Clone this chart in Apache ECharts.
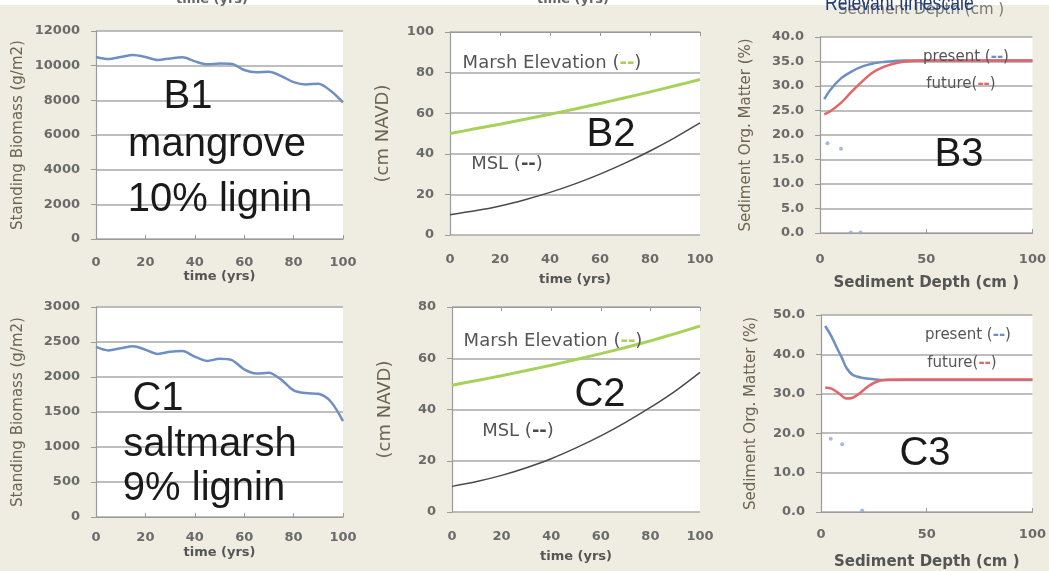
<!DOCTYPE html>
<html>
<head>
<meta charset="utf-8">
<script src="https://cdn.jsdelivr.net/npm/echarts@6/dist/echarts.min.js"></script>
<style>html,body{margin:0;padding:0;background:#efede2;}#c{width:1049px;height:571px;}</style>
</head>
<body>
<div id="c"></div>
<script>
// ---- data ----
const years5 = [0,5,10,15,20,25,30,35,40,45,50,55,60,65,70,75,80,85,90,95,100];
const b1Biomass = [10500,10380,10500,10620,10500,10330,10420,10480,10250,10080,10120,10100,9750,9620,9650,9400,9050,8920,8950,8550,7880];
const c1Biomass = [2430,2380,2410,2440,2390,2330,2360,2370,2290,2230,2260,2240,2110,2050,2060,1960,1810,1770,1760,1650,1370];

const years10 = [0,10,20,30,40,50,60,70,80,90,100];
const b2Marsh = [50,52.3,54.6,57,59.5,62.1,64.8,67.6,70.5,73.5,76.6];
const b2MSL = [10,11.9,14.3,17.4,21,25.2,30,35.4,41.4,48,55.2];
const c2Marsh = [49.5,51.3,53.2,55.2,57.3,59.5,61.8,64.2,66.8,69.6,72.6];
const c2MSL = [10,11.9,14.3,17.3,20.8,25,29.7,35,40.8,47.2,54.5];

const b3Depth = [2,5,10,15,20,25,30,35,40,50,60,70,80,90,100];
const b3Present = [27.3,29.3,31.6,33.0,34.0,34.6,34.9,35.1,35.2,35.2,35.2,35.2,35.2,35.2,35.2];
const b3Future = [24.2,24.9,26.6,28.9,31.0,32.8,33.9,34.6,35.0,35.2,35.2,35.2,35.2,35.2,35.2];
const b3ObsDepth = [3.5,9.9,14.5,19.1];
const b3ObsValue = [18.3,17.2,0.1,0.1];

const c3PresentDepth = [2,5,8,10,12,15,20,25,30,40,60,80,100];
const c3Present = [47.2,44.5,41.1,39.0,36.6,34.8,34.0,33.7,33.5,33.5,33.5,33.5,33.5];
const c3FutureDepth = [2,5,8,12,15,18,22,26,30,40,60,80,100];
const c3Future = [31.6,31.3,30.3,28.8,29.0,30.0,31.8,33.0,33.5,33.6,33.6,33.6,33.6];
const c3ObsDepth = [4.6,10,19.5];
const c3ObsValue = [18.6,17.2,0.4];

// ---- helpers ----
const pairs = (xs, ys) => xs.map((x, i) => [x, ys[i]]);
const FONT = 'DejaVu Sans';
const tickLabel = {color:'#6a6a6a', fontFamily:FONT, fontSize:13, fontWeight:'bold'};
const gridLine = {show:true, lineStyle:{color:'#a9a9a9', width:1.5}};

const grids = [
  {left:96, top:31, width:247, height:208},
  {left:450, top:32, width:250, height:203},
  {left:820, top:37, width:218, height:196},
  {left:96, top:307, width:247, height:210},
  {left:452, top:307, width:248, height:205},
  {left:821, top:315, width:219, height:197}
].map(g => Object.assign({show:true, backgroundColor:'#ffffff', borderWidth:0}, g));

function xAxis(gi, interval, name, margin, nameGap, nameSize, showLine) {
  return {
    type:'value', gridIndex:gi, min:0, max:100, interval:interval,
    axisLine:{show:showLine, lineStyle:{color:'#9a9a9a', width:1.2}},
    axisTick:{show:showLine, inside:true, length:4, lineStyle:{color:'#9a9a9a'}},
    splitLine:{show:false},
    axisLabel:Object.assign({margin:margin}, tickLabel),
    name:name, nameLocation:'middle', nameGap:nameGap,
    nameTextStyle:{color:'#555', fontFamily:FONT, fontSize:nameSize, fontWeight:'bold'}
  };
}
function topAxis(gi) {
  return {
    type:'value', gridIndex:gi, position:'top', min:0, max:100, interval:20,
    axisLine:{show:true, lineStyle:{color:'#9a9a9a', width:1.2}},
    axisTick:{show:true, inside:true, length:4, lineStyle:{color:'#9a9a9a'}},
    axisLabel:{show:false}, splitLine:{show:false}
  };
}
function yAxis(gi, max, interval, name, nameGap, nameSize, decimals) {
  return {
    type:'value', gridIndex:gi, min:0, max:max, interval:interval,
    axisLine:{show:true, lineStyle:{color:'#9a9a9a', width:1.2}},
    axisTick:{show:true, length:5, lineStyle:{color:'#9a9a9a'}},
    splitLine:gridLine,
    axisLabel:Object.assign({margin:16, formatter: v => decimals ? v.toFixed(1) : String(v)}, tickLabel),
    name:name, nameLocation:'middle', nameGap:nameGap,
    nameTextStyle:{color:'#6e6450', fontFamily:FONT, fontSize:nameSize}
  };
}

const blue = '#6f8fc2', red = '#e36565', green = '#a6d25a', black = '#4a4a4a';
function line(xi, yi, data, color, width) {
  return {type:'line', xAxisIndex:xi, yAxisIndex:yi, data:data, smooth:0.3, symbol:'none',
          lineStyle:{color:color, width:width}, itemStyle:{color:color}, silent:true};
}
function obs(xi, yi, data) {
  return {type:'scatter', xAxisIndex:xi, yAxisIndex:yi, data:data, symbolSize:4,
          itemStyle:{color:'#8fa9d8'}, silent:true};
}

function bigText(txt, x, y) {
  return {type:'text', z:10, style:{text:txt, x:x, y:y, align:'center', verticalAlign:'middle',
          font:'40px "Liberation Sans", Arial, sans-serif', fill:'#1a1a1a'}};
}
function keyText(pre, mark, post, color, x, y, size) {
  return {type:'text', z:10, style:{
    text:'{a|' + pre + '}{m|' + mark + '}{a|' + post + '}', x:x, y:y, align:'center', verticalAlign:'middle',
    rich:{a:{fill:'#555', fontSize:size, fontFamily:FONT}, m:{fill:color, fontSize:size, fontFamily:FONT, fontWeight:'bold'}}
  }};
}

const option = {
  backgroundColor:'#efede2',
  animation:false,
  grid:grids,
  xAxis:[
    xAxis(0, 20, 'time (yrs)', 17, 31, 13, true),
    xAxis(1, 20, 'time (yrs)', 18, 38, 13, false),
    xAxis(2, 50, 'Sediment Depth (cm )', 20, 43, 15, true),
    xAxis(3, 20, 'time (yrs)', 14, 29, 13, true),
    xAxis(4, 20, 'time (yrs)', 18, 38, 13, false),
    xAxis(5, 50, 'Sediment Depth (cm )', 16, 43, 15, true),
    topAxis(1),
    topAxis(4)
  ],
  yAxis:[
    yAxis(0, 12000, 2000, 'Standing Biomass (g/m2)', 70, 15, false),
    yAxis(1, 100, 20, '(cm NAVD)', 58, 18, false),
    yAxis(2, 40, 5, 'Sediment Org. Matter (%)', 66, 15, true),
    yAxis(3, 3000, 500, 'Standing Biomass (g/m2)', 70, 15, false),
    yAxis(4, 80, 20, '(cm NAVD)', 58, 18, false),
    yAxis(5, 50, 10, 'Sediment Org. Matter (%)', 62, 15, true)
  ],
  series:[
    line(0, 0, pairs(years5, b1Biomass), blue, 2.5),
    line(1, 1, pairs(years10, b2Marsh), green, 3),
    line(1, 1, pairs(years10, b2MSL), black, 1.5),
    obs(2, 2, pairs(b3ObsDepth, b3ObsValue)),
    line(2, 2, pairs(b3Depth, b3Present), blue, 2.5),
    line(2, 2, pairs(b3Depth, b3Future), red, 2.5),
    line(3, 3, pairs(years5, c1Biomass), blue, 2.5),
    line(4, 4, pairs(years10, c2Marsh), green, 3),
    line(4, 4, pairs(years10, c2MSL), black, 1.5),
    obs(5, 5, pairs(c3ObsDepth, c3ObsValue)),
    line(5, 5, pairs(c3PresentDepth, c3Present), blue, 2.5),
    line(5, 5, pairs(c3FutureDepth, c3Future), red, 2.5)
  ],
  graphic:[
    {type:'rect', z:0, shape:{x:0, y:0, width:1049, height:5}, style:{fill:'#ffffff'}},
    {type:'text', z:1, style:{text:'time (yrs)', x:212, y:6, align:'center', verticalAlign:'bottom', font:'bold 13px "DejaVu Sans"', fill:'#666'}},
    {type:'text', z:1, style:{text:'time (yrs)', x:573, y:6, align:'center', verticalAlign:'bottom', font:'bold 13px "DejaVu Sans"', fill:'#666'}},
    {type:'text', z:1, style:{text:'Sediment Depth (cm )', x:921, y:18, align:'center', verticalAlign:'bottom', font:'15px "DejaVu Sans"', fill:'#777'}},
    {type:'text', z:5, x:825, y:15, scaleX:0.8, style:{text:'Relevant timescale', x:0, y:0, align:'left', verticalAlign:'bottom', font:'22px "Liberation Sans"', fill:'#1f3c7a'}},
    bigText('B1', 188, 97),
    bigText('mangrove', 217, 145),
    bigText('10% lignin', 220, 200),
    bigText('C1', 158, 399),
    bigText('saltmarsh', 210, 445),
    bigText('9% lignin', 204, 489),
    bigText('B2', 611, 135),
    bigText('C2', 600, 395),
    bigText('B3', 959, 155),
    bigText('C3', 925, 454),
    keyText('Marsh Elevation (', '--', ')', green, 552, 63, 18),
    keyText('MSL (', '--', ')', black, 507, 164, 18),
    keyText('Marsh Elevation (', '--', ')', green, 553, 341, 18),
    keyText('MSL (', '--', ')', black, 518, 431, 18),
    keyText('present (', '--', ')', blue, 966, 57, 15),
    keyText('future(', '--', ')', red, 961, 84, 15),
    keyText('present (', '--', ')', blue, 968, 335, 15),
    keyText('future(', '--', ')', red, 962, 363, 15)
  ]
};
const chart = echarts.init(document.getElementById('c'), null, {renderer:'canvas'});
chart.setOption(option);
</script>
</body>
</html>
